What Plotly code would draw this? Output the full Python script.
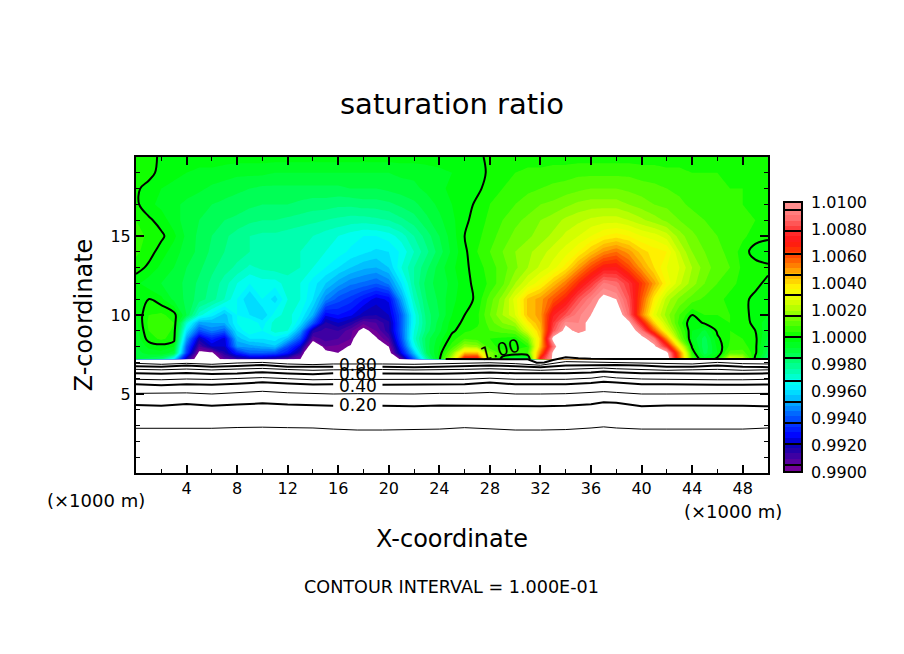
import plotly.graph_objects as go

# x columns (x1000 m) and z rows (x1000 m) of the saturation-ratio field
x_km = [0,1,2,3,4,5,6,7,8,9,10,11,12,13,14,15,16,17,18,19,20,21,22,23,24,25,26,27,28,29,
        30,31,32,33,34,35,36,37,38,39,40,41,42,43,44,45,46,47,48,49,50]
z_km = [7.2,7.6,8,8.5,9,9.5,10,11,12,13,14,15,16,17,18,19,20]

# saturation ratio minus one, in units of 0.0001, one list per z row
d_z7p2 = [-12,-14,-18,-40,-85,-110,-110,-95,-88,-85,
          -85,-88,-92,-100,-130,-120,-115,-150,-150,-150,
          -130,-95,-60,-25,-1,25,75,78,18,-4,
          -14,-14,75,103,150,150,150,150,150,150,
          150,150,110,60,8,-6,2,30,25,-2,-20]
d_z7p6 = [-10,-6,-5,-10,-65,-103,-102,-85,-70,-60,
          -60,-62,-72,-88,-130,-103,-100,-130,-150,-150,
          -105,-75,-45,-15,-3,15,45,45,15,5,
          5,8,55,103,130,150,150,150,150,150,
          150,130,104,55,4,-14,-4,10,10,1,-14]
d_z8 = [-8,-3,-2,-4,-60,-92,-80,-80,-52,-50,
        -48,-45,-62,-78,-112,-96,-97,-101,-130,-120,
        -100,-68,-35,-14,-4,6,20,18,5,3,
        3,4,45,90,130,130,130,150,150,150,
        130,103,78,35,-1,-15,-3,5,6,1,-12]
d_z8p5 = [-7,2,5,2,-50,-82,-70,-78,-46,-40,
          -40,-38,-45,-62,-95,-90,-92,-96,-115,-101,
          -92,-62,-30,-14,-6,2,8,6,4,3,
          2,14,42,105,130,110,130,140,140,130,
          105,92,52,15,-5,-14,-1,4,4,1,-9]
d_z9 = [-6,4,7,3,-40,-62,-55,-60,-40,-32,
        -36,-30,-32,-50,-85,-90,-88,-95,-103,-96,
        -85,-60,-32,-18,-9,-1,3,5,8,10,
        12,28,45,85,105,96,103,130,130,110,
        92,60,30,10,-4,-9,1,4,3,0,-7]
d_z9p5 = [-5,5,8,4,-30,-50,-48,-48,-36,-32,
          -38,-30,-28,-40,-60,-85,-80,-85,-95,-92,
          -85,-60,-34,-19,-10,-2,1,3,10,16,
          20,38,48,80,98,96,103,130,130,103,
          75,42,22,6,-4,1,2,4,3,-2,-6]
d_z10 = [-4,4,5,2,-12,-30,-38,-46,-36,-40,
         -44,-34,-30,-36,-48,-75,-72,-75,-82,-84,
         -80,-60,-34,-18,-12,-4,0,3,12,20,
         28,45,50,75,85,95,100,130,110,90,
         55,30,18,8,0,4,4,4,2,-2,-4]
d_z11 = [-3,0,-3,-9,-13,-18,-22,-28,-36,-44,
         -36,-42,-32,-32,-40,-54,-62,-66,-72,-78,
         -75,-50,-28,-16,-11,-5,-2,1,10,18,
         30,45,50,60,70,85,95,103,100,85,
         60,38,22,15,10,7,5,3,1,-1,-3]
d_z12 = [-3,-6,-8,-10,-13,-17,-21,-26,-32,-36,
         -34,-34,-30,-32,-38,-44,-50,-55,-57,-60,
         -55,-40,-24,-14,-10,-7,-1,1,5,11,
         20,28,35,45,55,68,80,93,90,80,
         65,50,35,25,18,12,8,5,3,1,-1]
d_z13 = [2,-1,-5,-8,-12,-15,-19,-22,-25,-29,
         -27,-26,-26,-28,-32,-36,-40,-44,-47,-48,
         -44,-32,-24,-17,-10,-5,-1,2,6,10,
         15,20,25,30,38,50,62,72,73,62,
         50,40,32,28,20,14,10,8,3,2,1]
d_z14 = [5,2,-2,-6,-10,-13,-17,-20,-22,-24,
         -25,-25,-26,-28,-30,-32,-34,-37,-39,-41,
         -40,-35,-28,-21,-14,-7,-1,4,8,12,
         16,19,22,26,30,36,44,52,56,50,
         42,38,36,24,16,12,9,7,2,-2,-3]
d_z15 = [6,3,1,-3,-9,-13,-16,-19,-22,-24,
         -25,-25,-26,-27,-28,-30,-32,-34,-36,-36,
         -34,-30,-24,-18,-12,-6,0,3,6,10,
         13,15,18,21,25,28,32,36,38,36,
         32,30,26,18,13,10,8,7,5,2,1]
d_z16 = [4,1,-2,-6,-10,-12,-14,-16,-17,-19,
         -20,-20,-21,-22,-23,-24,-25,-26,-26,-25,
         -24,-21,-18,-13,-9,-5,-1,2,5,8,
         11,13,16,18,21,23,25,26,26,24,
         21,18,15,12,10,8,7,6,5,4,3]
d_z17 = [1,-3,-5,-7,-9,-11,-12,-13,-14,-15,
         -16,-16,-16,-17,-18,-18,-19,-19,-18,-18,
         -17,-15,-13,-10,-7,-4,-2,1,4,6,
         8,10,12,13,15,17,18,18,18,16,
         14,12,11,9,7,6,5,5,4,3,3]
d_z18 = [1,-2,-4,-5,-6,-7,-9,-10,-11,-12,
         -13,-13,-13,-13,-13,-13,-13,-12,-12,-12,
         -11,-10,-9,-7,-5,-3,-2,-1,2,4,
         6,7,8,9,10,11,12,12,12,11,
         10,9,8,7,6,5,4,4,4,3,3]
d_z19 = [3,2,-2,-3,-4,-5,-5,-6,-7,-7,
         -7,-8,-8,-8,-8,-8,-8,-8,-8,-8,
         -8,-7,-7,-6,-5,-4,-3,-2,1,3,
         4,5,5,6,6,7,7,7,7,7,
         6,6,5,5,4,4,4,3,3,3,3]
d_z20 = [2,2,-1,-2,-2,-2,-2,-2,-2,-2,
         -2,-2,-2,-2,-2,-2,-2,-2,-2,-2,
         -2,-2,-2,-2,-2,-1,-1,-1,1,1,
         1,2,2,2,2,2,2,2,2,2,
         2,2,2,2,2,2,2,1,1,1,1]
d_rows = [d_z7p2,d_z7p6,d_z8,d_z8p5,d_z9,d_z9p5,d_z10,d_z11,d_z12,d_z13,d_z14,d_z15,d_z16,d_z17,d_z18,d_z19,d_z20]
for r in d_rows:
    assert len(r) == len(x_km), len(r)
field = [[1 + v / 1e4 for v in r] for r in d_rows]

# contour lines below the surface: height (x1000 m) of each level along x
level_x = [0,2,4,6,8,10,12,14,15.6,17.5,19.5,22,24,26,28,30,32,34,36,37,38,40,42,44,46,48,50]
level_01 = [2.83,2.83,2.83,2.83,2.88,2.90,2.87,2.85,2.78,2.72,2.72,2.75,2.78,2.87,2.80,2.72,2.72,2.75,2.85,2.92,2.85,2.78,2.78,2.78,2.78,2.78,2.85]
level_02 = [4.30,4.25,4.36,4.25,4.33,4.41,4.33,4.28,4.25,None,4.25,4.22,4.28,4.27,4.25,4.22,4.22,4.25,4.35,4.48,4.45,4.22,4.28,4.27,4.27,4.25,4.22]
level_03 = [5.04,5.07,5.07,5.0,5.08,5.17,5.08,5.02,5.0,5.02,5.0,5.0,5.04,5.04,5.10,5.0,5.0,5.02,5.1,5.15,5.1,5.0,5.0,5.0,5.0,5.02,5.04]
level_04 = [5.61,5.55,5.61,5.58,5.65,5.74,5.66,5.60,5.61,None,5.58,5.58,5.58,5.61,5.72,5.61,5.61,5.61,5.7,5.78,5.72,5.61,5.61,5.58,5.58,5.58,5.6]
level_05 = [5.93,5.90,5.95,5.92,5.98,6.04,5.97,5.90,5.92,5.92,5.92,5.90,5.90,5.93,6.00,5.93,5.93,5.93,6.0,6.1,6.02,5.95,5.93,5.9,5.9,5.9,5.93]
level_06 = [6.31,6.28,6.33,6.27,6.30,6.38,6.30,6.25,6.31,None,6.30,6.28,6.28,6.31,6.36,6.31,6.31,6.31,6.36,6.42,6.38,6.31,6.31,6.28,6.28,6.28,6.31]
level_07 = [6.56,6.53,6.58,6.52,6.58,6.62,6.55,6.50,6.53,6.55,6.55,6.52,6.52,6.56,6.6,6.56,6.5,6.56,6.6,6.64,6.6,6.56,6.5,6.53,6.56,6.5,6.53]
level_08 = [6.76,6.73,6.80,6.72,6.78,6.83,6.72,6.70,6.73,None,6.73,6.70,6.73,6.76,6.8,6.76,6.7,6.8,6.83,6.85,6.83,6.8,6.73,6.73,6.8,6.73,6.7]
level_09 = [6.94,6.88,6.94,6.88,6.96,7.0,6.9,6.86,6.9,6.92,6.9,6.88,6.92,6.98,6.98,6.92,6.82,7.05,7.02,7.05,7.0,7.0,6.95,6.9,7.0,6.92,6.9]
level_10_x = [24.5,26,28,30,31,31.7,32.3,33,34,35,36,38,40,42,44,46,48,50]
level_10 = [7.22,7.22,7.22,7.22,7.2,6.98,7.0,7.15,7.33,7.26,7.23,7.22,7.22,7.22,7.22,7.22,7.22,7.22]

# contour label text and positions
label_text = ["0.80","0.60","0.40","0.20"]
label_x = [17.6,17.6,17.6,17.6]
label_z = [6.83,6.27,5.53,4.28]

# colour key: value -> colour
key_values = [0.9900,0.9904,0.9915,0.9920,0.9925,0.9932,0.9940,0.9948,0.9958,0.9964,0.9972,0.9980,0.9988,1.0000,
              1.0008,1.0016,1.0024,1.0032,1.0038,1.0044,1.0050,1.0056,1.0064,1.0072,1.0080,1.0090,1.0100]
key_rgb = [(130,0,150),(100,0,155),(30,0,170),(0,0,190),(0,0,255),(0,40,255),(0,90,255),(0,150,255),(0,220,255),(0,255,255),
           (0,255,190),(0,255,130),(0,255,70),(0,255,0),(70,255,0),(130,255,0),(200,255,0),(240,255,0),(255,240,0),(255,200,0),
           (255,160,0),(255,110,0),(255,60,0),(255,20,20),(255,50,50),(255,110,110),(255,150,150)]
key_ticks = [0.99,0.992,0.994,0.996,0.998,1.0,1.002,1.004,1.006,1.008,1.01]
key_dividers = [1.0096,1.0080,1.0063,1.0047,1.0032,1.0016,1.0000,0.9984,0.9967,0.9951,0.9935,0.9919,0.9903]

START, END, STEP = 0.99, 1.01, 0.0004
PW, PH = 632, 316
L, T = 136, 157

def key_colour(v):
    if v <= key_values[0]:
        return key_rgb[0]
    for i in range(1, len(key_values)):
        if v <= key_values[i]:
            f = (v - key_values[i-1]) / (key_values[i] - key_values[i-1])
            return tuple(round(a + (b - a) * f) for a, b in zip(key_rgb[i-1], key_rgb[i]))
    return key_rgb[-1]

n_bands = 51
band_stops = []
for k in range(50):
    c = key_colour(START + (k + 0.5) * STEP)
    band_stops.append([(k + 1) / n_bands, "rgb(%d,%d,%d)" % c])
# in the field, values outside the key stay white; in the key the end bands keep their own colour
field_scale = [[0, "white"]] + band_stops + [[1, "white"]]
key_scale = [[0, band_stops[0][1]]] + band_stops + [[1, band_stops[-1][1]]]

FONT = "DejaVu Sans"
fig = go.Figure()
fig.add_trace(go.Contour(
    x=x_km, y=z_km, z=field, colorscale=field_scale, autocontour=False, showscale=False,
    contours=dict(start=START, end=END, size=STEP, coloring="fill", showlines=False),
    line=dict(width=0, smoothing=0), hoverinfo="skip"))
# carrier of the colour key only: its two columns lie beyond the x axis range
fig.add_trace(go.Contour(
    x=[60, 61], y=[0, 1], z=[[START, END], [START, END]], colorscale=key_scale, autocontour=False,
    contours=dict(start=START, end=END, size=STEP, coloring="fill", showlines=False),
    line=dict(width=0), hoverinfo="skip",
    colorbar=dict(thickness=18, thicknessmode="pixels", len=270, lenmode="pixels",
                  x=(784 - L) / PW, xanchor="left", y=(473 - 202) / PH, yanchor="top",
                  xpad=0, ypad=0, outlinewidth=2, outlinecolor="black",
                  ticks="inside", ticklen=18, tickwidth=2, tickcolor="black",
                  tickvals=key_dividers, ticktext=[" "] * len(key_dividers),
                  tickfont=dict(family=FONT, size=1, color="black"))))
fig.add_trace(go.Contour(
    x=x_km, y=z_km, z=field, showscale=False, autocontour=False,
    contours=dict(start=1.0, end=1.0, size=0.1, coloring="none"),
    line=dict(color="black", width=2, smoothing=1), hoverinfo="skip"))

levels = [level_01,level_02,level_03,level_04,level_05,level_06,level_07,level_08,level_09]
for i, lv in enumerate(levels):
    fig.add_trace(go.Scatter(x=level_x, y=lv, mode="lines", showlegend=False, hoverinfo="skip",
                             line=dict(color="black", width=2 if i % 2 else 1)))
fig.add_trace(go.Scatter(x=level_10_x, y=level_10, mode="lines", showlegend=False, hoverinfo="skip",
                         line=dict(color="black", width=2)))

anns = []
for t, x, z in zip(label_text, label_x, label_z):
    anns.append(dict(x=x, y=z, xref="x", yref="y", text=t, showarrow=False, xanchor="center", yanchor="middle",
                     font=dict(family=FONT, size=17, color="black")))
anns.append(dict(x=28.8, y=7.8, xref="x", yref="y", text="1.00", showarrow=False, textangle=-14,
                 xanchor="center", yanchor="middle", font=dict(family=FONT, size=18, color="black")))
def txt(px, py, t, size, anchor="center"):
    return dict(x=(px - L) / PW, y=(473 - py) / PH, xref="paper", yref="paper", text=t, showarrow=False,
                xanchor=anchor, yanchor="middle", font=dict(family=FONT, size=size, color="black"))
anns += [txt(96, 500, "(×1000 m)", 18), txt(733, 511, "(×1000 m)", 18),
         txt(451, 587, "CONTOUR INTERVAL = 1.000E-01", 17.6)]
for v in key_ticks:
    anns.append(txt(809, 202 + (1.01 - v) / 0.02 * 270, "%.4f" % v, 16, "left"))

axis = dict(showgrid=False, zeroline=False, mirror="ticks", showline=True, linecolor="black", linewidth=2,
            ticks="inside", ticklen=8, tickwidth=2, tickcolor="black",
            tickfont=dict(family=FONT, size=16, color="black"))
xaxis = dict(axis, range=[0, 50], autorange=False, tickmode="array", tickvals=[4,8,12,16,20,24,28,32,36,40,44,48],
             minor=dict(tickmode="array", tickvals=[2,6,10,14,18,22,26,30,34,38,42,46], ticks="inside", ticklen=4, tickwidth=1, tickcolor="black"),
             title=dict(text="X-coordinate", font=dict(family=FONT, size=24, color="black"), standoff=33))
yaxis = dict(axis, range=[0, 20], autorange=False, tickmode="array", tickvals=[5,10,15],
             minor=dict(tickmode="array", tickvals=[1,2,3,4,6,7,8,9,11,12,13,14,16,17,18,19], ticks="inside", ticklen=4, tickwidth=1, tickcolor="black"),
             title=dict(text="Z-coordinate", font=dict(family=FONT, size=24, color="black"), standoff=11))

fig.update_layout(width=904, height=654, margin=dict(l=L, r=904 - L - PW, t=T, b=654 - T - PH, autoexpand=False),
                  paper_bgcolor="white", plot_bgcolor="white", showlegend=False,
                  title=dict(text="saturation ratio", x=452 / 904, xanchor="center", y=1 - 104 / 654, yanchor="middle",
                             font=dict(family=FONT, size=29, color="black")),
                  xaxis=xaxis, yaxis=yaxis, annotations=anns)
fig.write_html("out.html", post_script="document.body.style.margin='0';", config={"displayModeBar": False})
